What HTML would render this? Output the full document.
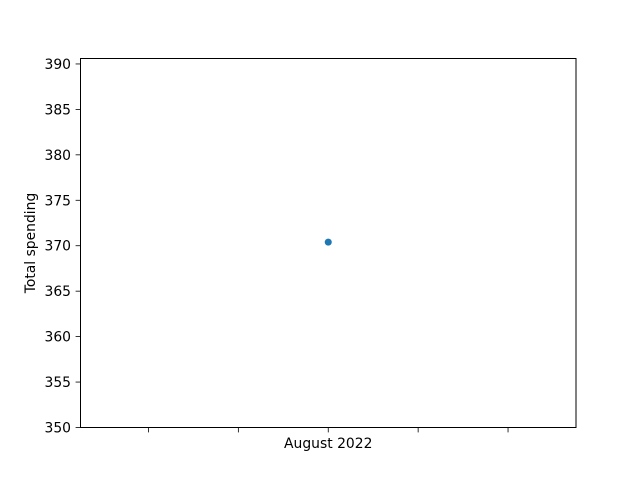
<!DOCTYPE html>
<html><head><meta charset="utf-8"><style>
body{margin:0;background:#fff;}
svg text{font-family:"DejaVu Sans","Liberation Sans",sans-serif;font-size:13.9px;fill:#000;}
</style></head><body>
<svg width="640" height="480" viewBox="0 0 640 480">
<rect x="0" y="0" width="640" height="480" fill="#fff"/>
<g id="ticks"></g>
<g id="marks"></g>
<rect x="80.5" y="58.5" width="495.5" height="369" fill="none" stroke="#000" stroke-width="1"/>
<text x="35" y="243" transform="rotate(-90 35 243)" text-anchor="middle">Total spending</text>
</svg>
<script>
const categories = ["August 2022"];
const values = [370.4];
const yTicks = [350,355,360,365,370,375,380,385,390];
const xTickPositions = [-2,-1,0,1,2];
const xTickLabels = ["","","August 2022","",""];
const L=80.5,R=576,T=58.5,B=427.5;
const yMin=350,yMax=390.6;
const xMin=-2.756,xMax=2.756;
const ys=v=>B-(v-yMin)/(yMax-yMin)*(B-T);
const xs=v=>L+(v-xMin)/(xMax-xMin)*(R-L);
const NS="http://www.w3.org/2000/svg";
const tg=document.getElementById('ticks'), mg=document.getElementById('marks');
function mk(tag,attrs,parent){const e=document.createElementNS(NS,tag);for(const k in attrs)e.setAttribute(k,attrs[k]);parent.appendChild(e);return e;}
yTicks.forEach(t=>{
  const y=ys(t);
  const l=mk('line',{x1:L-4.9,x2:L,y1:y,y2:y,stroke:'#000','stroke-width':0.8},tg);
  
  
  const tx=mk('text',{x:L-9.5,y:y+5,'text-anchor':'end'},tg);
  tx.textContent=t;
  
  
});
xTickPositions.forEach((p,i)=>{
  const x=xs(p);
  const l=mk('line',{x1:x,x2:x,y1:B,y2:B+4.9,stroke:'#000','stroke-width':0.8},tg);
  
  
  if(xTickLabels[i]){
    const tx=mk('text',{x:x,y:B+20.5,'text-anchor':'middle'},tg);
    tx.textContent=xTickLabels[i];
    
    
  }
});
values.forEach((v,i)=>{
  const c=mk('circle',{cx:xs(i),cy:ys(v),r:3.5,fill:'#1f77b4'},mg);
  
  
});
</script>
</body></html>
